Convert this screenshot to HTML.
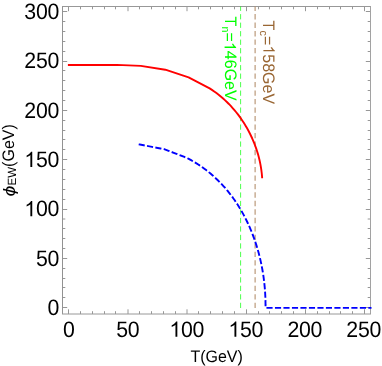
<!DOCTYPE html>
<html><head><meta charset="utf-8"><title>plot</title>
<style>
html,body{margin:0;padding:0;background:#fff;}
body{width:382px;height:366px;overflow:hidden;}
svg{display:block;will-change:transform;}
text{font-family:"Liberation Sans",sans-serif;fill:#000;}
</style></head><body>
<svg width="382" height="366" viewBox="0 0 382 366">
<rect x="0" y="0" width="382" height="366" fill="#ffffff"/>
<defs><clipPath id="cp"><rect x="62.5" y="6.5" width="309.0" height="307.5"/></clipPath></defs>

<path d="M68.50,314.0 v-4.7 M68.50,6.5 v4.7 M80.50,314.0 v-2.8 M80.50,6.5 v2.8 M92.50,314.0 v-2.8 M92.50,6.5 v2.8 M104.50,314.0 v-2.8 M104.50,6.5 v2.8 M115.50,314.0 v-2.8 M115.50,6.5 v2.8 M128.00,314.0 v-4.7 M128.00,6.5 v4.7 M139.50,314.0 v-2.8 M139.50,6.5 v2.8 M151.50,314.0 v-2.8 M151.50,6.5 v2.8 M163.50,314.0 v-2.8 M163.50,6.5 v2.8 M175.50,314.0 v-2.8 M175.50,6.5 v2.8 M187.00,314.0 v-4.7 M187.00,6.5 v4.7 M198.50,314.0 v-2.8 M198.50,6.5 v2.8 M210.50,314.0 v-2.8 M210.50,6.5 v2.8 M222.50,314.0 v-2.8 M222.50,6.5 v2.8 M234.50,314.0 v-2.8 M234.50,6.5 v2.8 M246.50,314.0 v-4.7 M246.50,6.5 v4.7 M258.50,314.0 v-2.8 M258.50,6.5 v2.8 M269.50,314.0 v-2.8 M269.50,6.5 v2.8 M281.50,314.0 v-2.8 M281.50,6.5 v2.8 M293.50,314.0 v-2.8 M293.50,6.5 v2.8 M305.50,314.0 v-4.7 M305.50,6.5 v4.7 M317.50,314.0 v-2.8 M317.50,6.5 v2.8 M329.50,314.0 v-2.8 M329.50,6.5 v2.8 M340.50,314.0 v-2.8 M340.50,6.5 v2.8 M352.50,314.0 v-2.8 M352.50,6.5 v2.8 M364.50,314.0 v-4.7 M364.50,6.5 v4.7 M62.5,307.50 h4.7 M370.5,307.50 h-4.7 M62.5,297.50 h2.8 M370.5,297.50 h-2.8 M62.5,287.50 h2.8 M370.5,287.50 h-2.8 M62.5,278.50 h2.8 M370.5,278.50 h-2.8 M62.5,268.50 h2.8 M370.5,268.50 h-2.8 M62.5,258.50 h4.7 M370.5,258.50 h-4.7 M62.5,248.50 h2.8 M370.5,248.50 h-2.8 M62.5,238.50 h2.8 M370.5,238.50 h-2.8 M62.5,228.50 h2.8 M370.5,228.50 h-2.8 M62.5,219.00 h2.8 M370.5,219.00 h-2.8 M62.5,209.50 h4.7 M370.5,209.50 h-4.7 M62.5,199.50 h2.8 M370.5,199.50 h-2.8 M62.5,189.50 h2.8 M370.5,189.50 h-2.8 M62.5,179.50 h2.8 M370.5,179.50 h-2.8 M62.5,169.50 h2.8 M370.5,169.50 h-2.8 M62.5,159.50 h4.7 M370.5,159.50 h-4.7 M62.5,149.50 h2.8 M370.5,149.50 h-2.8 M62.5,139.50 h2.8 M370.5,139.50 h-2.8 M62.5,130.50 h2.8 M370.5,130.50 h-2.8 M62.5,120.50 h2.8 M370.5,120.50 h-2.8 M62.5,110.50 h4.7 M370.5,110.50 h-4.7 M62.5,100.50 h2.8 M370.5,100.50 h-2.8 M62.5,90.50 h2.8 M370.5,90.50 h-2.8 M62.5,80.50 h2.8 M370.5,80.50 h-2.8 M62.5,70.50 h2.8 M370.5,70.50 h-2.8 M62.5,61.50 h4.7 M370.5,61.50 h-4.7 M62.5,51.50 h2.8 M370.5,51.50 h-2.8 M62.5,41.50 h2.8 M370.5,41.50 h-2.8 M62.5,31.50 h2.8 M370.5,31.50 h-2.8 M62.5,21.50 h2.8 M370.5,21.50 h-2.8 M62.5,11.50 h4.7 M370.5,11.50 h-4.7" stroke="#505050" stroke-width="0.6" fill="none"/>
<path d="M62.5,314.0 V6.0" fill="none" stroke="#929292" stroke-width="1"/>
<path d="M62.5,6.5 H371.0" fill="none" stroke="#989898" stroke-width="1"/>
<path d="M370.5,6.5 V314.0" fill="none" stroke="#a2a2a2" stroke-width="1"/>
<path d="M62.0,314.0 H371.0" fill="none" stroke="#989898" stroke-width="1"/>
<g clip-path="url(#cp)" fill="none" stroke-linecap="square">
<path d="M240.6,307.5 V0" stroke="#00ff00" stroke-width="0.7" stroke-dasharray="4.2445 4.2445"/>
<path d="M255.1,307.5 V0" stroke="#b08a66" stroke-width="1.05" stroke-dasharray="4.2445 4.2445"/>
<path d="M67.90,65.00 L116.80,64.90 L140.80,65.90 L165.30,69.70 L188.60,77.30 L209.65,88.37 L211.95,89.87 L214.22,91.43 L216.44,93.05 L218.62,94.73 L220.75,96.47 L222.85,98.26 L224.90,100.11 L226.90,102.01 L228.86,103.96 L230.77,105.97 L232.63,108.02 L234.44,110.11 L236.21,112.25 L237.92,114.43 L239.59,116.66 L241.20,118.92 L242.76,121.22 L244.26,123.56 L245.72,125.93 L247.11,128.34 L248.45,130.78 L249.74,133.25 L250.97,135.74 L252.14,138.26 L253.25,140.81 L254.30,143.38 L255.29,145.98 L256.22,148.59 L257.09,151.22 L257.89,153.87 L258.63,156.54 L259.31,159.21 L259.92,161.90 L260.46,164.61 L260.94,167.32 L261.35,170.03 L261.69,172.75 L261.97,175.48 L262.17,178.21" stroke="#ff0000" stroke-width="1.9" stroke-linecap="butt" stroke-linejoin="round"/>
<path d="M139.62,144.50 L164.80,149.30 L186.84,157.94 L189.20,159.16 L191.53,160.44 L193.81,161.76 L196.06,163.12 L198.27,164.52 L200.45,165.96 L202.58,167.45 L204.68,168.98 L206.74,170.54 L208.76,172.14 L210.75,173.79 L212.70,175.46 L214.61,177.18 L216.49,178.93 L218.33,180.71 L220.13,182.53 L221.89,184.38 L223.62,186.27 L225.32,188.18 L226.97,190.13 L228.59,192.11 L230.17,194.12 L231.72,196.15 L233.23,198.21 L234.71,200.30 L236.15,202.42 L237.55,204.56 L238.92,206.73 L240.26,208.92 L241.55,211.13 L242.82,213.37 L244.04,215.63 L245.24,217.91 L246.39,220.21 L247.51,222.52 L248.60,224.86 L249.65,227.22 L250.67,229.59 L251.65,231.98 L252.60,234.38 L253.52,236.80 L254.40,239.23 L255.24,241.68 L256.05,244.14 L256.83,246.61 L257.57,249.09 L258.28,251.58 L258.96,254.08 L259.60,256.59 L260.21,259.11 L260.78,261.63 L261.32,264.17 L261.83,266.70 L262.31,269.24 L262.75,271.79 L263.16,274.34 L263.53,276.89 L263.87,279.44 L264.18,282.00 L264.46,284.55 L264.71,287.11 L264.92,289.66 L265.10,292.21 L265.24,294.76 L265.36,297.30 L265.44,299.84 L265.49,302.38 L265.51,304.91 L265.70,307.85 L372.00,307.85" stroke="#0000ff" stroke-width="1.9" stroke-dasharray="4.245 4.245" stroke-linejoin="miter"/>
</g>
<text transform="translate(0,336.70) scale(1,1.045)" x="63.01" y="0" font-size="21.3" text-rendering="geometricPrecision">0</text>
<text transform="translate(0,336.70) scale(1,1.045)" x="116.20 127.80" y="0" font-size="21.3" text-rendering="geometricPrecision">50</text>
<path d="M763,0 H583 V1147 Q518,1085 412.5,1023 Q307,961 223,930 V1104 Q374,1175 487,1276 Q600,1377 647,1472 H763 Z" transform="translate(169.40,336.70) scale(0.01040,-0.01040)" fill="#000"/>
<text transform="translate(0,336.70) scale(1,1.045)" x="180.99 192.59" y="0" font-size="21.3" text-rendering="geometricPrecision">00</text>
<path d="M763,0 H583 V1147 Q518,1085 412.5,1023 Q307,961 223,930 V1104 Q374,1175 487,1276 Q600,1377 647,1472 H763 Z" transform="translate(228.39,336.70) scale(0.01040,-0.01040)" fill="#000"/>
<text transform="translate(0,336.70) scale(1,1.045)" x="239.98 251.58" y="0" font-size="21.3" text-rendering="geometricPrecision">50</text>
<text transform="translate(0,336.70) scale(1,1.045)" x="287.38 298.97 310.57" y="0" font-size="21.3" text-rendering="geometricPrecision">200</text>
<text transform="translate(0,336.70) scale(1,1.045)" x="346.37 357.96 369.56" y="0" font-size="21.3" text-rendering="geometricPrecision">250</text>
<text transform="translate(0,314.85) scale(1,1.045)" x="47.50" y="0" font-size="21.3" text-rendering="geometricPrecision">0</text>
<text transform="translate(0,265.55) scale(1,1.045)" x="35.91 47.50" y="0" font-size="21.3" text-rendering="geometricPrecision">50</text>
<path d="M763,0 H583 V1147 Q518,1085 412.5,1023 Q307,961 223,930 V1104 Q374,1175 487,1276 Q600,1377 647,1472 H763 Z" transform="translate(24.31,216.25) scale(0.01040,-0.01040)" fill="#000"/>
<text transform="translate(0,216.25) scale(1,1.045)" x="35.91 47.50" y="0" font-size="21.3" text-rendering="geometricPrecision">00</text>
<path d="M763,0 H583 V1147 Q518,1085 412.5,1023 Q307,961 223,930 V1104 Q374,1175 487,1276 Q600,1377 647,1472 H763 Z" transform="translate(24.31,166.95) scale(0.01040,-0.01040)" fill="#000"/>
<text transform="translate(0,166.95) scale(1,1.045)" x="35.91 47.50" y="0" font-size="21.3" text-rendering="geometricPrecision">50</text>
<text transform="translate(0,117.65) scale(1,1.045)" x="24.31 35.91 47.50" y="0" font-size="21.3" text-rendering="geometricPrecision">200</text>
<text transform="translate(0,68.35) scale(1,1.045)" x="24.31 35.91 47.50" y="0" font-size="21.3" text-rendering="geometricPrecision">250</text>
<text transform="translate(0,19.05) scale(1,1.045)" x="24.31 35.91 47.50" y="0" font-size="21.3" text-rendering="geometricPrecision">300</text>
<text transform="translate(216.6,361.5) scale(1,1.04)" font-size="16" text-anchor="middle" text-rendering="geometricPrecision">T(GeV)</text>
<text transform="translate(15.3,196.4) rotate(-90) scale(1.22,1)" font-size="16" font-style="italic">&#x3d5;</text>
<text transform="translate(14.3,193.5) rotate(-90) scale(1,1.04)" font-size="16" text-rendering="geometricPrecision"><tspan font-size="11.5" x="8.1" dy="2.0">EW</tspan><tspan dy="-2.0">(GeV)</tspan></text>
<g transform="translate(224.6,16.5) rotate(90)" style="fill:#00ff00">
<text transform="scale(1,1.04)" font-size="16" text-rendering="geometricPrecision" style="fill:#00ff00"><tspan x="0" y="0">T</tspan><tspan font-size="10.8" x="9.97" y="2.9">n</tspan><tspan x="16.11" y="1.0">=</tspan><tspan x="34.35" y="0">46GeV</tspan></text>
<path d="M763,0 H583 V1147 Q518,1085 412.5,1023 Q307,961 223,930 V1104 Q374,1175 487,1276 Q600,1377 647,1472 H763 Z" transform="translate(25.45,0) scale(0.00781,-0.00781)" style="fill:#00ff00"/>
</g>
<g transform="translate(263.4,20.6) rotate(90)" style="fill:#996633">
<text transform="scale(1,1.04)" font-size="16" text-rendering="geometricPrecision" style="fill:#996633"><tspan x="0" y="0">T</tspan><tspan font-size="10.8" x="9.97" y="2.9">c</tspan><tspan x="15.47" y="1.0">=</tspan><tspan x="33.71" y="0">58GeV</tspan></text>
<path d="M763,0 H583 V1147 Q518,1085 412.5,1023 Q307,961 223,930 V1104 Q374,1175 487,1276 Q600,1377 647,1472 H763 Z" transform="translate(24.81,0) scale(0.00781,-0.00781)" style="fill:#996633"/>
</g>
</svg></body></html>
